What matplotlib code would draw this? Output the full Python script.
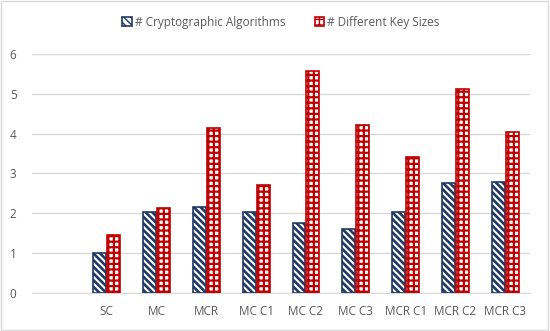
import matplotlib as mpl
import matplotlib.pyplot as plt
import numpy as np
from matplotlib.patches import Rectangle

categories = ['SC', 'MC', 'MCR', 'MC C1', 'MC C2', 'MC C3', 'MCR C1', 'MCR C2', 'MCR C3']
algorithms = [1.0, 2.03, 2.15, 2.03, 1.75, 1.6, 2.03, 2.77, 2.79]
key_sizes = [1.45, 2.12, 4.15, 2.71, 5.57, 4.21, 3.42, 5.13, 4.03]

navy = '#203864'
red = '#C00000'
grey_text = '#595959'
grid_grey = '#D9D9D9'

plt.rcParams['font.family'] = ['Open Sans', 'DejaVu Sans']

fig = plt.figure(figsize=(5.5, 3.31), dpi=100)
ax = fig.add_axes([0.058, 0.115, 0.906, 0.722])

x = np.arange(len(categories))
w = 0.26
with mpl.rc_context({'hatch.linewidth': 1.9}):
    ax.bar(x - w / 2 - 0.01, algorithms, w, facecolor='white', edgecolor=navy,
           hatch='\\\\\\\\\\', linewidth=1.2, label='# Cryptographic Algorithms', zorder=3)
with mpl.rc_context({'hatch.linewidth': 1.6}):
    ax.bar(x + w / 2 + 0.01, key_sizes, w, facecolor='white', edgecolor=red,
           hatch='+++', linewidth=1.2, label='# Different Key Sizes', zorder=3)

ax.set_xlim(-1.5, len(categories) - 0.5)
ax.set_ylim(0, 6)
ax.set_yticks(range(7))
ax.set_xticks(x)
ax.set_xticklabels(categories)
ax.tick_params(length=0, labelsize=8.5, colors=grey_text)
ax.tick_params(axis='y', pad=11)
ax.tick_params(axis='x', pad=9)
ax.grid(axis='y', color=grid_grey, linewidth=1, zorder=0)
for s in ['top', 'right', 'left']:
    ax.spines[s].set_visible(False)
ax.spines['bottom'].set_color(grid_grey)

ax.legend(loc='lower center', bbox_to_anchor=(0.5, 1.06), ncol=2, frameon=False,
          fontsize=8.5, labelcolor=grey_text, handlelength=0.8, handleheight=0.8,
          handletextpad=0.25, columnspacing=2.5)

fig.patches.append(Rectangle((0.002, 0.003), 0.995, 0.993, transform=fig.transFigure,
                             fill=False, edgecolor=grid_grey, linewidth=1))

fig.savefig('out.png', dpi=100)
